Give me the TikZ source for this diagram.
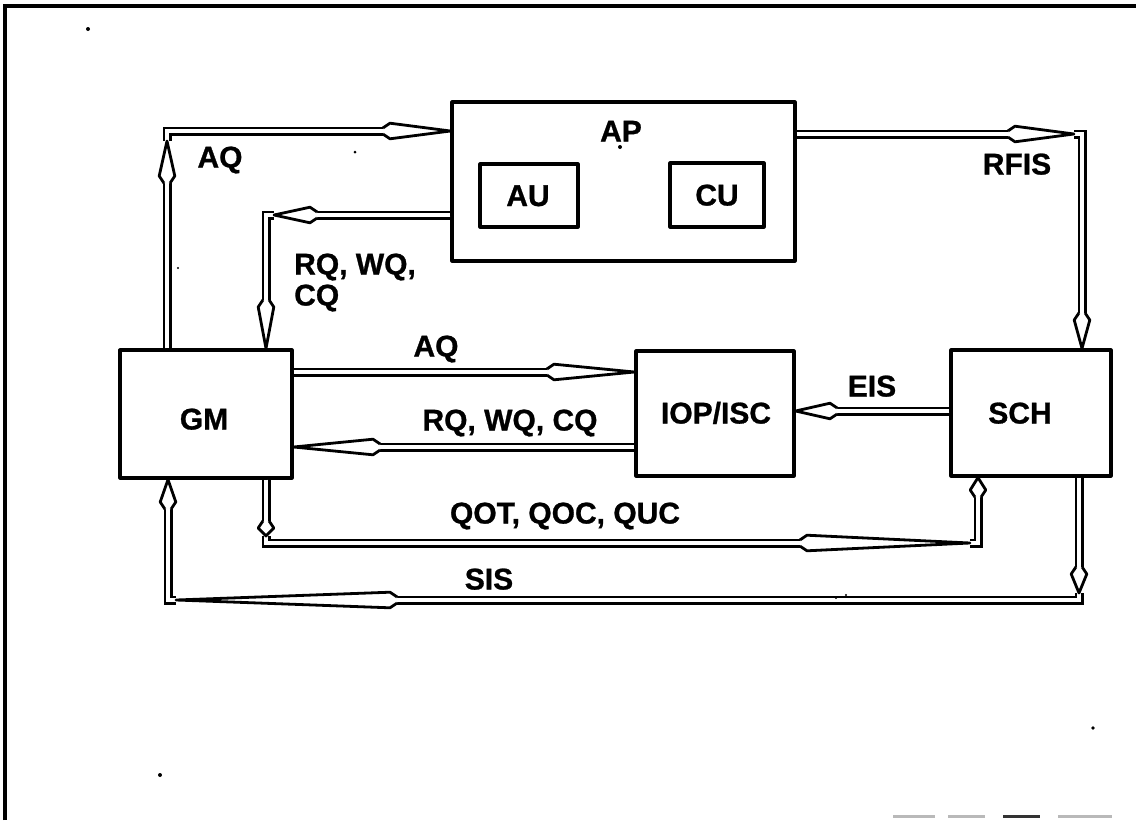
\documentclass[tikz,border=0pt]{standalone}
\usepackage{fontspec}
\setmainfont{Liberation Sans}[BoldFeatures={FakeBold=0.9}]
\usetikzlibrary{calc}
\newcommand\ahd[2]{%
  \coordinate (ahq) at ($(#1)!7pt!(#2)$);
  \filldraw[arrowhd] ($(#1)!3.1pt!90:(#2)$) -- ($(ahq)!7.8pt!90:(#2)$) -- (#2) -- ($(ahq)!7.8pt!-90:(#2)$) -- ($(#1)!3.1pt!-90:(#2)$);}
\begin{document}
\begin{tikzpicture}[x=1pt,y=-1pt,
  every node/.style={font=\fontsize{30}{31}\selectfont\bfseries},
  box/.style={draw=black, line width=3.2pt, inner sep=0pt, line join=round},
  txt/.style={inner sep=0pt, anchor=base},
  dl/.style={draw=black, line width=2.8pt, double=white, double distance=3.4pt, line join=miter, line cap=butt},
  arrowhd/.style={fill=white, draw=black, line width=2.8pt, line join=round},
  speck/.style={fill=black, draw=none},
  frame/.style={draw=black, line width=3.4pt},
  scan/.style={line width=3pt}]
\useasboundingbox (0,0) rectangle (1136,820);
% frame
\coordinate (fr1) at (5,820); \coordinate (fr2) at (5,6); \coordinate (fr3) at (1136,6);
\draw[frame] (fr1) -- (fr2) -- (fr3);
% boxes
\node[box, minimum width=343pt, minimum height=159pt] (AP) at (623.5,181.5) {};
\node[txt] (APt) at (621,141.5) {AP};
\node[box, minimum width=98pt, minimum height=63pt] (AU) at (529,195.5) {};
\node[txt] (AUt) at (528,206) {AU};
\node[box, minimum width=94pt, minimum height=64pt] (CU) at (717,195) {};
\node[txt] (CUt) at (717,205.5) {CU};
\node[box, minimum width=172pt, minimum height=128pt] (GM) at (206,414) {};
\node[txt] (GMt) at (204,429.5) {GM};
\node[box, minimum width=158pt, minimum height=125pt] (IOP) at (715,413.5) {};
\node[txt] (IOPt) at (716,423.5) {IOP/ISC};
\node[box, minimum width=160pt, minimum height=126pt] (SCH) at (1031,413) {};
\node[txt] (SCHt) at (1020,423.5) {SCH};
% AQ (top)
\coordinate (aqc) at (167,131);
\coordinate (aqs) at (aqc |- GM.north);
\coordinate (aqvb) at (167,183);
\coordinate (aqvt) at (167,141);
\coordinate (aqhb) at (383,131);
\coordinate (aqe) at (aqc -| AP.west);
\draw[dl] (aqs) -- (aqvb);
\draw[dl] (aqvt) -- (aqc) -- (aqhb);
\ahd{aqvb}{aqvt}
\ahd{aqhb}{aqe}
% RQ, WQ, CQ (top)
\coordinate (rqc) at (266,215);
\coordinate (rqs) at (rqc -| AP.west);
\coordinate (rqhb) at (317,215);
\coordinate (rqht) at (274,215);
\coordinate (rqvb) at (266,300);
\coordinate (rqe) at (rqc |- GM.north);
\draw[dl] (rqs) -- (rqhb);
\draw[dl] (rqht) -- (rqc) -- (rqvb);
\ahd{rqhb}{rqht}
\ahd{rqvb}{rqe}
% RFIS
\coordinate (rfc) at (1082,134);
\coordinate (rfs) at (rfc -| AP.east);
\coordinate (rfhb) at (1008,134);
\coordinate (rfht) at (1074,134);
\coordinate (rfvb) at (1082,313);
\coordinate (rfe) at (rfc |- SCH.north);
\draw[dl] (rfs) -- (rfhb);
\draw[dl] (rfht) -- (rfc) -- (rfvb);
\ahd{rfhb}{rfht}
\ahd{rfvb}{rfe}
% AQ (middle)
\coordinate (amy) at (450,372);
\coordinate (ams) at (amy -| GM.east);
\coordinate (ame) at (amy -| IOP.west);
\coordinate (amb) at (547,372);
\draw[dl] (ams) -- (amb);
\ahd{amb}{ame}
% RQ, WQ, CQ (middle)
\coordinate (rmy) at (450,447);
\coordinate (rms) at (rmy -| IOP.west);
\coordinate (rme) at (rmy -| GM.east);
\coordinate (rmb) at (380,447);
\draw[dl] (rms) -- (rmb);
\ahd{rmb}{rme}
% EIS
\coordinate (eiy) at (870,411);
\coordinate (eis) at (eiy -| SCH.west);
\coordinate (eie) at (eiy -| IOP.east);
\coordinate (eib) at (837,411);
\draw[dl] (eis) -- (eib);
\ahd{eib}{eie}
% QOT, QOC, QUC
\coordinate (qoc1) at (266,543);
\coordinate (qoc2) at (978,543);
\coordinate (qos) at (qoc1 |- GM.south);
\coordinate (qovb) at (266,521);
\coordinate (qovt) at (266,536);
\coordinate (qohb) at (800,543);
\coordinate (qoht) at (970,543);
\coordinate (qoub) at (978,497);
\coordinate (qoe) at (qoc2 |- SCH.south);
\draw[dl] (qos) -- (qovb);
\draw[dl] (qovt) -- (qoc1) -- (qohb);
\draw[dl] (qoht) -- (qoc2) -- (qoub);
\ahd{qovb}{qovt}
\ahd{qohb}{qoht}
\ahd{qoub}{qoe}
% SIS
\coordinate (sic1) at (1079,600);
\coordinate (sic2) at (168,600);
\coordinate (sis) at (sic1 |- SCH.south);
\coordinate (sivb) at (1079,567);
\coordinate (sivt) at (1079,593);
\coordinate (sihb) at (397,600);
\coordinate (siht) at (176,600);
\coordinate (siub) at (168,509);
\coordinate (sie) at (sic2 |- GM.south);
\draw[dl] (sis) -- (sivb);
\draw[dl] (sivt) -- (sic1) -- (sihb);
\draw[dl] (siht) -- (sic2) -- (siub);
\ahd{sivb}{sivt}
\ahd{sihb}{siht}
\ahd{siub}{sie}
% labels
\node[txt] (lAQ1) at (220,167.5) {AQ};
\node[txt, anchor=base west] (lRQ1a) at (294,274.5) {RQ, WQ,};
\node[txt, anchor=base west] (lRQ1b) at (294,305.5) {CQ};
\node[txt] (lRFIS) at (1017,174.5) {RFIS};
\node[txt] (lAQ2) at (436,356.5) {AQ};
\node[txt] (lRQ2) at (510,430.5) {RQ, WQ, CQ};
\node[txt] (lEIS) at (872,396.5) {EIS};
\node[txt] (lQOT) at (565,523.5) {QOT, QOC, QUC};
\node[txt] (lSIS) at (489,589.5) {SIS};
% scan specks
\fill[speck] (88,29) circle (2);
\fill[speck] (160,775) circle (2);
\fill[speck] (1093,728) circle (1.8);
\fill[speck] (836,598) circle (1.2);
\fill[speck] (846,595) circle (1.2);
\fill[speck] (620,147) circle (2);
\fill[speck] (355,152) circle (1.5);
\fill[speck] (178,268) circle (1.2);
% bottom scan marks
\draw[scan, gray!55] (893,816) -- (935,816);
\draw[scan, gray!55] (948,816) -- (985,816);
\draw[scan, black!80] (1003,816) -- (1040,816);
\draw[scan, gray!55] (1058,816) -- (1112,816);
\end{tikzpicture}
\end{document}
